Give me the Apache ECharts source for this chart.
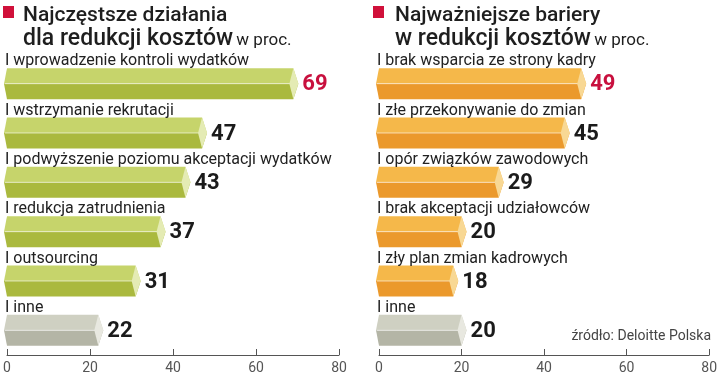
<!DOCTYPE html>
<html>
<head>
<meta charset="utf-8">
<script src="https://cdn.jsdelivr.net/npm/echarts@6/dist/echarts.min.js"></script>
<style>
  html, body { margin: 0; padding: 0; background: #fff; }
  #chart { width: 720px; height: 375px; }
</style>
</head>
<body>
<div id="chart"></div>
<script>
// dane
const leftCats = ['wprowadzenie kontroli wydatków', 'wstrzymanie rekrutacji', 'podwyższenie poziomu akceptacji wydatków', 'redukcja zatrudnienia', 'outsourcing', 'inne'];
const leftVals = [69, 47, 43, 37, 31, 22];
const rightCats = ['brak wsparcia ze strony kadry', 'złe przekonywanie do zmian', 'opór związków zawodowych', 'brak akceptacji udziałowców', 'zły plan zmian kadrowych', 'inne'];
const rightVals = [49, 45, 29, 20, 18, 20];
const xTicks = [0, 20, 40, 60, 80];

const FONT = 'Roboto, "Noto Sans", sans-serif';

// kolory: [gorna sciana, dolna sciana, czolo]
const green = ['#c6d46b', '#aab93e', '#e4ebb4'];
const orange = ['#f5b84a', '#eb992c', '#f8d894'];
const grey = ['#cfd0c2', '#b4b5a6', '#e8e8e0'];

function makeBar(cats, vals, palette) {
  return function (params, api) {
    const i = api.value(1);
    const v = api.value(0);
    const p0 = api.coord([0, i]);
    const p1 = api.coord([v, i]);
    const h = 31;
    const top = p0[1] - h / 2, mid = p0[1], bot = p0[1] + h / 2;
    const x0 = p0[0], xe = p1[0];
    const col = cats[i] === 'inne' ? grey : palette;
    return {
      type: 'group',
      children: [
        { type: 'polygon', shape: { points: [[x0 - 3, mid], [x0, top], [xe, top], [xe + 5, mid]] }, style: { fill: col[0] } },
        { type: 'polygon', shape: { points: [[x0 - 3, mid], [xe + 5, mid], [xe, bot], [x0, bot]] }, style: { fill: col[1] } },
        { type: 'line', shape: { x1: x0 - 2, y1: mid, x2: xe + 4, y2: mid }, style: { stroke: 'rgba(255,255,255,0.6)', lineWidth: 1 } },
        { type: 'polygon', shape: { points: [[xe, top], [xe + 5, mid], [xe, bot], [xe - 4, mid]] }, style: { fill: col[2] } },
        { type: 'text', x: x0 - 2, y: top - 7, style: { text: 'I ' + cats[i], fill: '#222', font: '16px ' + FONT, verticalAlign: 'middle' } },
        { type: 'text', x: xe + 9, y: mid + 1, style: { text: String(vals[i]), fill: i === 0 ? '#c8103e' : '#1b1b1b', font: 'bold 22px ' + FONT, verticalAlign: 'middle' } }
      ]
    };
  };
}

function xAxisOf(gi) {
  return {
    gridIndex: gi, type: 'value', min: 0, max: 80, interval: 20,
    axisLine: { show: true, lineStyle: { color: '#555', width: 1 } },
    axisTick: { show: true, inside: true, length: 6, lineStyle: { color: '#555' } },
    axisLabel: { color: '#555', fontSize: 14, fontFamily: FONT, margin: 6,
      formatter: v => xTicks.indexOf(v) >= 0 ? String(v) : '' },
    splitLine: { show: false }
  };
}
function yAxisOf(gi, cats) {
  return { gridIndex: gi, type: 'category', data: cats, inverse: true, show: false };
}

const chart = echarts.init(document.getElementById('chart'), null, { renderer: 'canvas' });
chart.setOption({
  backgroundColor: '#fff',
  animation: false,
  grid: [
    { left: 7, width: 332, top: 59, height: 296 },
    { left: 379, width: 332, top: 59, height: 296 }
  ],
  xAxis: [xAxisOf(0), xAxisOf(1)],
  yAxis: [yAxisOf(0, leftCats), yAxisOf(1, rightCats)],
  series: [
    { type: 'custom', xAxisIndex: 0, yAxisIndex: 0, renderItem: makeBar(leftCats, leftVals, green),
      encode: { x: 0, y: 1 }, data: leftVals.map((v, i) => [v, i]) },
    { type: 'custom', xAxisIndex: 1, yAxisIndex: 1, renderItem: makeBar(rightCats, rightVals, orange),
      encode: { x: 0, y: 1 }, data: rightVals.map((v, i) => [v, i]) }
  ],
  graphic: [
    { type: 'rect', shape: { x: 3, y: 6, width: 11, height: 12 }, style: { fill: '#d0103a' } },
    { type: 'text', left: 23, top: 5, style: { text: 'Najczęstsze działania', font: '500 21px ' + FONT, fill: '#1e1e1e' } },
    { type: 'text', left: 23, top: 28, style: { text: '{a|dla redukcji kosztów} {b|w proc.}', rich: {
      a: { font: '500 23px ' + FONT, fill: '#1e1e1e' }, b: { font: '17px ' + FONT, fill: '#1e1e1e', padding: [3, 0, 0, 0] } } } },
    { type: 'rect', shape: { x: 373, y: 6, width: 11, height: 12 }, style: { fill: '#d0103a' } },
    { type: 'text', left: 395, top: 5, style: { text: 'Najważniejsze bariery', font: '500 21px ' + FONT, fill: '#1e1e1e' } },
    { type: 'text', left: 395, top: 28, style: { text: '{a|w redukcji kosztów} {b|w proc.}', rich: {
      a: { font: '500 23px ' + FONT, fill: '#1e1e1e' }, b: { font: '17px ' + FONT, fill: '#1e1e1e', padding: [3, 0, 0, 0] } } } },
    { type: 'text', right: 9, top: 329, style: { text: 'źródło: Deloitte Polska', font: '14px ' + FONT, fill: '#444' } }
  ]
});
</script>
</body>
</html>
